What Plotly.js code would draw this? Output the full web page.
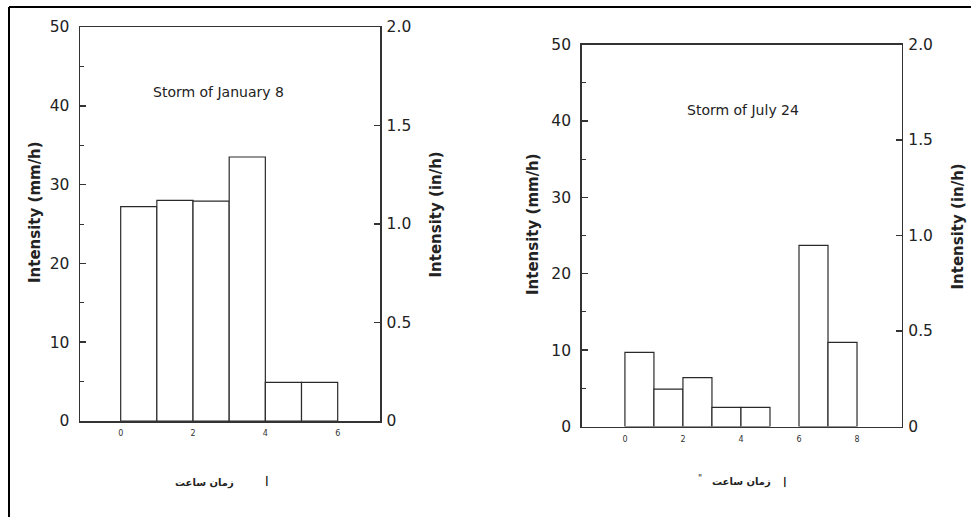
<!DOCTYPE html>
<html>
<head>
<meta charset="utf-8">
<script src="https://cdn.plot.ly/plotly-3.0.1.min.js"></script>
<style>html,body{margin:0;padding:0;background:#fff;}#chart{width:971px;height:517px;}</style>
</head>
<body>
<div id="chart"></div>
<script>
// ---- data ----
const janHourStart = [0, 1, 2, 3, 4, 5];
const janIntensity = [27.2, 28.0, 27.9, 33.5, 4.9, 4.9];
const julHourStart = [0, 1, 2, 3, 4, 6, 7];
const julIntensity = [9.7, 4.9, 6.4, 2.5, 2.5, 23.7, 11.0];
const janTickVals = [0, 2, 4, 6];
const julTickVals = [0, 2, 4, 6, 8];
const leftTickValsMM = [0, 10, 20, 30, 40, 50];
const rightTickValsIN = [0, 0.5, 1.0, 1.5, 2.0];
const rightTickTextIN = ['0', '0.5', '1.0', '1.5', '2.0'];
const titleJan = 'Storm of January 8';
const titleJul = 'Storm of July 24';
const yTitleMM = 'Intensity (mm/h)';
const yTitleIN = 'Intensity (in/h)';
const xLabelFa = 'زمان ساعت';

const FONT = 'DejaVu Sans, Liberation Sans, Arial, sans-serif';
const AX = '#333';

const barStyle = {
  type: 'bar', offset: 0, width: 1,
  marker: {color: '#ffffff', line: {color: '#2a2a2a', width: 1.2}},
  hoverinfo: 'x+y', showlegend: false
};

const traces = [
  Object.assign({}, barStyle, {x: janHourStart, y: janIntensity, xaxis: 'x', yaxis: 'y'}),
  Object.assign({}, barStyle, {x: julHourStart, y: julIntensity, xaxis: 'x2', yaxis: 'y3'}),
  // empty traces that register the right-hand (in/h) axes
  {type: 'scatter', mode: 'markers', x: [], y: [], xaxis: 'x', yaxis: 'y2', showlegend: false},
  {type: 'scatter', mode: 'markers', x: [], y: [], xaxis: 'x2', yaxis: 'y4', showlegend: false}
];

function xAxis(domain, range, tickvals, anchor) {
  return {
    domain: domain, range: range, anchor: anchor,
    tickvals: tickvals, ticks: '', showgrid: false, zeroline: false,
    showline: true, linecolor: AX, linewidth: 1.5, mirror: true,
    tickfont: {family: FONT, size: 8, color: '#333'},
    ticklabelstandoff: 4, fixedrange: true
  };
}
function yLeft(domain, anchor) {
  return {
    domain: domain, range: [0, 50], anchor: anchor,
    tickvals: leftTickValsMM, ticks: 'inside', ticklen: 6, tickwidth: 1.5, tickcolor: AX,
    minor: {dtick: 5, tick0: 0, ticks: 'inside', ticklen: 4, tickwidth: 1, tickcolor: AX},
    showgrid: false, zeroline: false, showline: true, linecolor: AX, linewidth: 1.5,
    tickfont: {family: FONT, size: 15.5, color: '#222'}, ticklabelstandoff: 6, fixedrange: true
  };
}
function yRight(overlay, anchor) {
  return {
    overlaying: overlay, side: 'right', anchor: anchor, range: [0, 2],
    tickvals: rightTickValsIN, ticktext: rightTickTextIN,
    ticks: 'inside', ticklen: 6, tickwidth: 1.5, tickcolor: AX,
    showgrid: false, zeroline: false, showline: true, linecolor: AX, linewidth: 1.5,
    tickfont: {family: FONT, size: 15.5, color: '#222'}, ticklabelstandoff: 2, fixedrange: true
  };
}

const W = 971, H = 517;
const px = v => v / W;
const py = v => (H - v) / H;

function ann(text, x, y, size, opts) {
  return Object.assign({
    text: text, xref: 'paper', yref: 'paper', x: px(x), y: py(y),
    xanchor: 'center', yanchor: 'middle', showarrow: false,
    font: {family: FONT, size: size, color: '#222'}
  }, opts || {});
}

const layout = {
  width: W, height: H,
  margin: {l: 0, r: 0, t: 0, b: 0},
  paper_bgcolor: '#fff', plot_bgcolor: '#fff',
  showlegend: false, bargap: 0,
  xaxis: xAxis([px(80), px(380)], [-1.125, 7.17], janTickVals, 'y'),
  yaxis: yLeft([py(421), py(27)], 'x'),
  yaxis2: yRight('y', 'x'),
  xaxis2: xAxis([px(581.7), px(901.7)], [-1.49, 9.54], julTickVals, 'y3'),
  yaxis3: yLeft([py(426.5), py(44.5)], 'x2'),
  yaxis4: yRight('y3', 'x2'),
  annotations: [
    ann(titleJan, 218, 92, 14),
    ann(titleJul, 743, 110, 14),
    ann('<b>' + yTitleMM + '</b>', 34.5, 212.5, 15, {textangle: -90}),
    ann('<b>' + yTitleIN + '</b>', 435, 214.5, 15, {textangle: -90}),
    ann('<b>' + yTitleMM + '</b>', 533, 224, 15, {textangle: -90}),
    ann('<b>' + yTitleIN + '</b>', 958, 226.5, 15, {textangle: -90}),
    ann('<b>' + xLabelFa + '</b>', 204, 483, 10),
    ann('ا', 267, 481, 13, {font: {family: FONT, size: 13, color: '#000'}}),
    ann('<b>' + xLabelFa + '</b>', 741.5, 482, 10),
    ann('ا', 785, 482, 13, {font: {family: FONT, size: 13, color: '#000'}}),
    ann('"', 700, 478, 9)
  ],
  shapes: [
    {type: 'line', xref: 'paper', yref: 'paper', x0: px(9), x1: 1, y0: py(7), y1: py(7), line: {color: '#000', width: 2}},
    {type: 'line', xref: 'paper', yref: 'paper', x0: px(9), x1: px(9), y0: py(7), y1: 0, line: {color: '#000', width: 2}}
  ]
};

Plotly.newPlot('chart', traces, layout, {displayModeBar: false, staticPlot: true});
</script>
</body>
</html>
